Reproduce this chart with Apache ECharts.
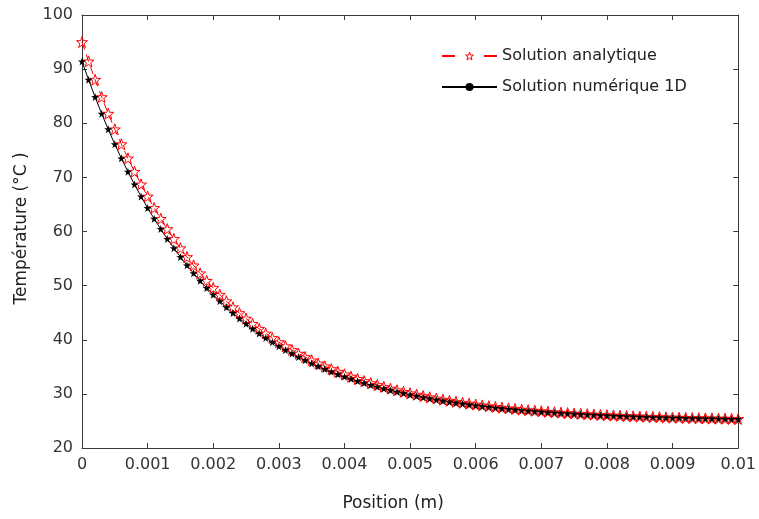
<!DOCTYPE html>
<html>
<head>
<meta charset="utf-8">
<script src="https://cdn.jsdelivr.net/npm/echarts@6/dist/echarts.min.js"></script>
<style>html,body{margin:0;padding:0;background:#fff}#c{width:759px;height:519px}</style>
</head>
<body>
<div id="c"></div>
<script>
const positions = [0,0.0001,0.0002,0.0003,0.0004,0.0005,0.0006,0.0007,0.0008,0.0009,
0.001,0.0011,0.0012,0.0013,0.0014,0.0015,0.0016,0.0017,0.0018,0.0019,
0.002,0.0021,0.0022,0.0023,0.0024,0.0025,0.0026,0.0027,0.0028,0.0029,
0.003,0.0031,0.0032,0.0033,0.0034,0.0035,0.0036,0.0037,0.0038,0.0039,
0.004,0.0041,0.0042,0.0043,0.0044,0.0045,0.0046,0.0047,0.0048,0.0049,
0.005,0.0051,0.0052,0.0053,0.0054,0.0055,0.0056,0.0057,0.0058,0.0059,
0.006,0.0061,0.0062,0.0063,0.0064,0.0065,0.0066,0.0067,0.0068,0.0069,
0.007,0.0071,0.0072,0.0073,0.0074,0.0075,0.0076,0.0077,0.0078,0.0079,
0.008,0.0081,0.0082,0.0083,0.0084,0.0085,0.0086,0.0087,0.0088,0.0089,
0.009,0.0091,0.0092,0.0093,0.0094,0.0095,0.0096,0.0097,0.0098,0.0099,
0.01];
const analytique = [95.00,91.43,88.04,84.83,81.77,78.88,76.13,73.52,71.05,68.70,
66.47,64.35,62.35,60.44,58.63,56.92,55.29,53.75,52.28,50.89,
49.57,48.32,47.13,46.00,44.93,43.91,42.95,42.03,41.16,40.34,
39.56,38.81,38.11,37.44,36.81,36.20,35.63,35.09,34.58,34.09,
33.62,33.18,32.77,32.37,31.99,31.64,31.30,30.98,30.67,30.38,
30.11,29.85,29.60,29.37,29.14,28.93,28.73,28.54,28.36,28.19,
28.03,27.87,27.72,27.59,27.45,27.33,27.21,27.10,26.99,26.89,
26.79,26.70,26.61,26.53,26.45,26.38,26.31,26.24,26.18,26.12,
26.06,26.01,25.96,25.91,25.86,25.82,25.78,25.74,25.70,25.66,
25.63,25.60,25.57,25.54,25.51,25.49,25.46,25.44,25.42,25.39,
25.37];
const numerique = [91.40,88.04,84.83,81.77,78.88,76.13,73.52,71.05,68.70,66.47,
64.35,62.35,60.44,58.63,56.92,55.29,53.75,52.28,50.89,49.57,
48.32,47.13,46.00,44.93,43.91,42.95,42.03,41.16,40.34,39.56,
38.81,38.11,37.44,36.81,36.20,35.63,35.09,34.58,34.09,33.62,
33.18,32.77,32.37,31.99,31.64,31.30,30.98,30.67,30.38,30.11,
29.85,29.60,29.37,29.14,28.93,28.73,28.54,28.36,28.19,28.03,
27.87,27.72,27.59,27.45,27.33,27.21,27.10,26.99,26.89,26.79,
26.70,26.61,26.53,26.45,26.38,26.31,26.24,26.18,26.12,26.06,
26.01,25.96,25.91,25.86,25.82,25.78,25.74,25.70,25.66,25.63,
25.60,25.57,25.54,25.51,25.49,25.46,25.44,25.42,25.39,25.37,
25.35];
const seriesNames = ['Solution analytique', 'Solution numérique 1D'];
const xTitle = 'Position (m)';
const yTitle = 'Température (°C )';

const STAR = 'path://M0,-10L2.35,-3.24L9.51,-3.09L3.8,1.24L5.88,8.09L0,4L-5.88,8.09L-3.8,1.24L-9.51,-3.09L-2.35,-3.24Z';
const FONT = 'DejaVu Sans';
const AX = '#3a3a3a';

const chart = echarts.init(document.getElementById('c'), null, {renderer: 'canvas'});

function frameAxis(type, pos, show) {
  const base = {
    type: 'value',
    position: pos,
    axisLine: {show: true, onZero: false, lineStyle: {color: AX, width: 1}},
    axisTick: {show: true, inside: true, length: 5, lineStyle: {color: AX, width: 1}},
    splitLine: {show: false},
    axisLabel: {show: show, color: '#333', fontFamily: FONT, fontSize: 16, margin: 9}
  };
  if (type === 'x') {
    Object.assign(base, {min: 0, max: 0.01, interval: 0.001});
  } else {
    Object.assign(base, {min: 20, max: 100, interval: 10});
  }
  return base;
}

const xBottom = frameAxis('x', 'bottom', true);
xBottom.name = xTitle;
xBottom.nameLocation = 'middle';
xBottom.nameGap = 47;
xBottom.nameTextStyle = {color: '#222', fontFamily: FONT, fontSize: 17, padding: [0, 34, 0, 0]};
const xTop = frameAxis('x', 'top', false);

const yLeft = frameAxis('y', 'left', true);
yLeft.name = yTitle;
yLeft.nameLocation = 'middle';
yLeft.nameGap = 52;
yLeft.nameRotate = 90;
yLeft.nameTextStyle = {color: '#222', fontFamily: FONT, fontSize: 17, padding: [0, 0, 0, 6]};
const yRight = frameAxis('y', 'right', false);

const option = {
  animation: false,
  backgroundColor: '#fff',
  grid: {left: 82, right: 18, top: 15, bottom: 71, containLabel: false},
  xAxis: [xBottom, xTop],
  yAxis: [yLeft, yRight],
  legend: {
    orient: 'vertical',
    left: 441,
    top: 48,
    padding: 0,
    itemWidth: 55,
    itemHeight: 10,
    itemGap: 15,
    textStyle: {color: '#222', fontFamily: FONT, fontSize: 16},
    data: [
      {name: seriesNames[0], lineStyle: {type: [13, 29]}, itemStyle: {color: 'rgba(255,255,255,0)', borderColor: '#ff0000', borderWidth: 1}},
      {name: seriesNames[1]}
    ]
  },
  series: [
    {
      name: seriesNames[0],
      type: 'line',
      xAxisIndex: 0, yAxisIndex: 0,
      showAllSymbol: true,
      symbol: STAR,
      symbolSize: 11,
      lineStyle: {color: '#ff0000', width: 1, type: [8, 5]},
      itemStyle: {color: 'rgba(255,255,255,0)', borderColor: '#ff0000', borderWidth: 1},
      data: positions.map((x, i) => [x, analytique[i]])
    },
    {
      name: seriesNames[1],
      type: 'line',
      xAxisIndex: 0, yAxisIndex: 0,
      showAllSymbol: true,
      symbol: 'circle',
      symbolSize: 5,
      lineStyle: {color: '#000', width: 1},
      itemStyle: {color: '#000'},
      data: positions.map((x, i) => ({value: [x, numerique[i]], symbol: STAR, symbolSize: 8}))
    }
  ]
};
chart.setOption(option);
</script>
</body>
</html>
